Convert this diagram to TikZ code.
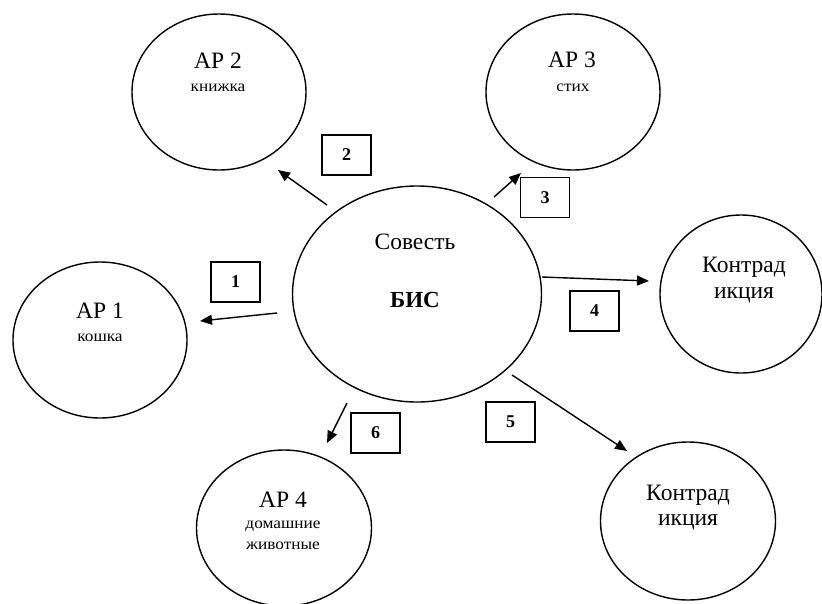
\documentclass[tikz,border=0pt]{standalone}
\usepackage{fontspec}
\setmainfont{Liberation Serif}
\usetikzlibrary{arrows.meta,shapes.geometric}
\begin{document}
\begin{tikzpicture}[x=1pt,y=-1pt,
  bubble/.style={draw, line width=1.4pt, ellipse, inner sep=0pt},
  numbox/.style={draw, line width=1.4pt, minimum width=49pt, minimum height=40pt, inner sep=0pt, font=\fontsize{18}{19}\selectfont\bfseries},
  bigtxt/.style={anchor=base, inner sep=0pt, font=\fontsize{23.5}{25}\selectfont},
  smalltxt/.style={anchor=base, inner sep=0pt, font=\fontsize{16}{17}\selectfont, xscale=1.08},
  arr/.style={line width=1.4pt, -{Triangle[length=12pt,width=10pt]}}]
\useasboundingbox (0,0) rectangle (822,603);

% ellipses
\node[bubble, minimum width=174pt, minimum height=156pt] (ap2) at (219,92) {};
\node[bubble, minimum width=174pt, minimum height=156pt] (ap3) at (573,92) {};
\node[bubble, minimum width=174pt, minimum height=156pt] (ap1) at (100,340) {};
\node[bubble, minimum width=249pt, minimum height=216pt] (bis) at (417,294) {};
\node[bubble, minimum width=162pt, minimum height=158pt] (kd1) at (741,294) {};
\node[bubble, minimum width=175pt, minimum height=158pt] (kd2) at (688,521) {};
\node[bubble, minimum width=175pt, minimum height=156pt] (ap4) at (284,528) {};

% texts
\node[bigtxt] (t2a) at (218,68) {АР 2};
\node[smalltxt] (t2b) at (218,91) {книжка};
\node[bigtxt] (t3a) at (572,67) {АР 3};
\node[smalltxt] (t3b) at (573,91) {стих};
\node[bigtxt] (t1a) at (100,318) {АР 1};
\node[smalltxt] (t1b) at (100,341) {кошка};
\node[bigtxt] (t4a) at (283,507) {АР 4};
\node[smalltxt] (t4b) at (283,528) {домашние};
\node[smalltxt] (t4c) at (283,549) {животные};
\node[bigtxt] (k1a) at (744,272) {Контрад};
\node[bigtxt] (k1b) at (744,298) {икция};
\node[bigtxt] (k2a) at (688,500) {Контрад};
\node[bigtxt] (k2b) at (688,525) {икция};
\node[bigtxt] (ba) at (415,249) {Совесть};
\node[bigtxt, font=\fontsize{23}{25}\selectfont\bfseries] (bb) at (415,307) {БИС};

% number boxes
\node[numbox] (n1) at (235.5,282) {1};
\node[numbox] (n2) at (346.5,155) {2};
\node[numbox] (n3) at (545,197.5) {3};
\node[numbox] (n4) at (594.5,311) {4};
\node[numbox] (n5) at (510.5,422) {5};
\node[numbox] (n6) at (375.5,433) {6};

% arrow end points
\coordinate (s1) at (277,313); \coordinate (e1) at (200,321);
\coordinate (s2) at (327,205); \coordinate (e2) at (278,170);
\coordinate (s3) at (494,197); \coordinate (e3) at (521,173);
\coordinate (s4) at (542,277); \coordinate (e4) at (649,281);
\coordinate (s5) at (512,375); \coordinate (e5) at (627,451);
\coordinate (s6) at (347,403); \coordinate (e6) at (327,443);

\draw[arr] (s1) -- (e1);
\draw[arr] (s2) -- (e2);
\draw[arr] (s3) -- (e3);
\draw[arr] (s4) -- (e4);
\draw[arr] (s5) -- (e5);
\draw[arr] (s6) -- (e6);
\end{tikzpicture}
\end{document}
